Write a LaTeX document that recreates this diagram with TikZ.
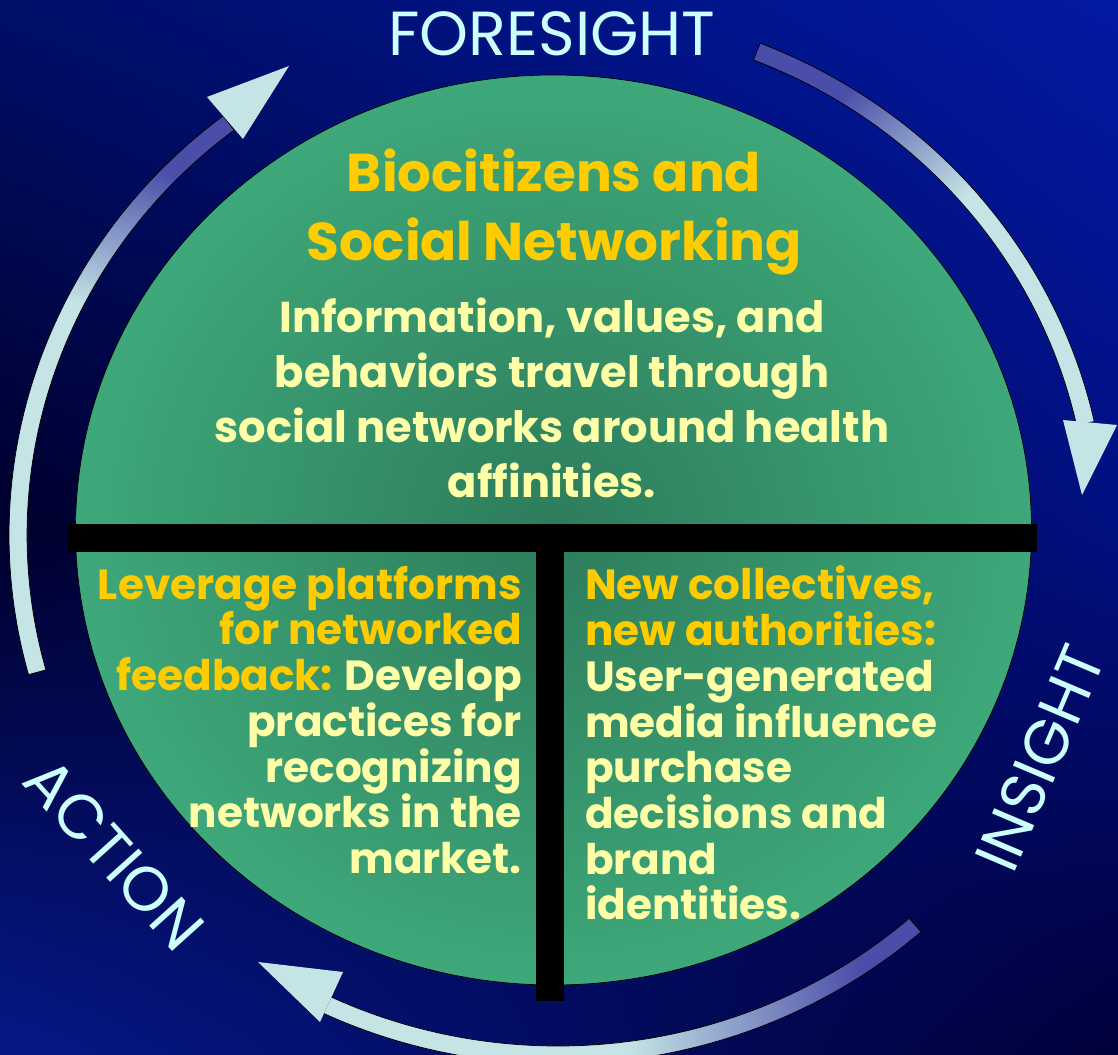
\documentclass[tikz,border=0pt]{standalone}
\usepackage{fontspec}
\setmainfont{Poppins}
\usetikzlibrary{shadings,calc}
\definecolor{bgtl}{HTML}{000E68}
\definecolor{bgtr}{HTML}{0219A2}
\definecolor{bgml}{HTML}{00002C}
\definecolor{bgmr}{HTML}{020F80}
\definecolor{bgbl}{HTML}{061888}
\definecolor{bgbr}{HTML}{00003A}
\definecolor{greendark}{HTML}{2D7C5B}
\definecolor{greenlight}{HTML}{3EA87A}
\definecolor{arrowblue}{HTML}{4A4EA8}
\definecolor{arrowlight}{HTML}{C5E4E6}
\definecolor{labelcyan}{HTML}{CCFFFF}
\definecolor{gold}{HTML}{FFCC00}
\definecolor{paleyellow}{HTML}{FFFFA8}
\pgfdeclareverticalshading{arrowfade}{100bp}{color(0bp)=(arrowlight); color(50bp)=(arrowlight); color(72bp)=(arrowblue); color(100bp)=(arrowblue)}
\pgfdeclareverticalshading{arrowfadeshort}{100bp}{color(0bp)=(arrowlight); color(58bp)=(arrowlight); color(74bp)=(arrowblue); color(100bp)=(arrowblue)}

\begin{document}
\begin{tikzpicture}[scale=0.35,
  cyclelabel/.style={text=labelcyan, font=\fontsize{62}{62}\selectfont},
  headtext/.style={text=gold, font=\bfseries\fontsize{53}{68}\selectfont, align=center},
  bodytext/.style={text=paleyellow, font=\bfseries\fontsize{43}{55}\selectfont, align=center},
  sidetext/.style={text=paleyellow, font=\bfseries\fontsize{42}{45.5}\selectfont},
  arrowbody/.style={draw=black, line width=0.7pt, shading=arrowfade},
  arrowhead/.style={fill=arrowlight}]
\tikzstyle{every node}+=[inner sep=0pt]
\useasboundingbox (0,0) rectangle (111.8,-105.5);
\shade [upper left=bgtl, upper right=bgtr, lower left=bgml, lower right=bgmr] (0,0) rectangle (111.8,-53);
\shade [upper left=bgml, upper right=bgmr, lower left=bgbl, lower right=bgbr] (0,-53) rectangle (111.8,-105.5);
\coordinate (ctr) at (55.8,-53.5);
\shade [inner color=greendark, outer color=greenlight] (55.35,-53) ellipse (47.8 and 45.5);
\draw [black, line width=0.7pt] (55.35,-53) ellipse (47.8 and 45.5);
\shade [arrowbody, shading angle=41]
  ($(ctr)+(68.4:54.9 and 52.9)$) arc [start angle=68.4, end angle=12.4, x radius=54.9, y radius=52.9]
  -- ($(ctr)+(12.4:53.1 and 51.1)$) arc [start angle=12.4, end angle=68.4, x radius=53.1, y radius=51.1] -- cycle;
\fill [arrowhead] (106.3,-42.0) -- (111.7,-42.5) -- (108.2,-49.5) -- cycle;
\shade [arrowbody, shading angle=-82]
  ($(ctr)+(-48.6:54.9 and 52.9)$) arc [start angle=-48.6, end angle=-115.3, x radius=54.9, y radius=52.9]
  -- ($(ctr)+(-115.3:53.1 and 51.1)$) arc [start angle=-115.3, end angle=-48.6, x radius=53.1, y radius=51.1] -- cycle;
\fill [arrowhead] (34.3,-97.2) -- (32.0,-102.2) -- (25.8,-96.2) -- cycle;
\shade [arrowbody, shading=arrowfadeshort, shading angle=-19]
  ($(ctr)+(195.3:54.9 and 52.9)$) arc [start angle=195.3, end angle=127.6, x radius=54.9, y radius=52.9]
  -- ($(ctr)+(127.6:53.1 and 51.1)$) arc [start angle=127.6, end angle=195.3, x radius=53.1, y radius=51.1] -- cycle;
\fill [arrowhead] (20.7,-9.7) -- (24.3,-13.9) -- (28.9,-6.6) -- cycle;
\fill [black] (6.8,-52.4) rectangle (103.7,-55.2);
\fill [black] (53.6,-55.2) rectangle (56.4,-100.1);
\draw (55.2,-3.4) node [cyclelabel] (foresight) {FORESIGHT};
\draw (104,-75.8) node [cyclelabel, rotate=67] (insight) {INSIGHT};
\draw (11.4,-85.4) node [cyclelabel, rotate=-48] (action) {ACTION};
\draw (55.4,-21.2) node [headtext] (title) {Biocitizens and\\Social Networking};
\draw (55.2,-39.8) node [bodytext] (summary) {Information, values, and\\behaviors travel through\\social networks around health\\affinities.};
\draw (52.2,-56.6) node [sidetext, anchor=north east, align=right] (leverage) {\textcolor{gold}{Leverage platforms}\\\textcolor{gold}{for networked}\\\textcolor{gold}{feedback:} Develop\\practices for\\recognizing\\networks in the\\market.};
\draw (58.5,-56.6) node [sidetext, anchor=north west, align=left] (collectives) {\textcolor{gold}{New collectives,}\\\textcolor{gold}{new authorities:}\\User-generated\\media influence\\purchase\\decisions and\\brand\\identities.};
\end{tikzpicture}
\end{document}
